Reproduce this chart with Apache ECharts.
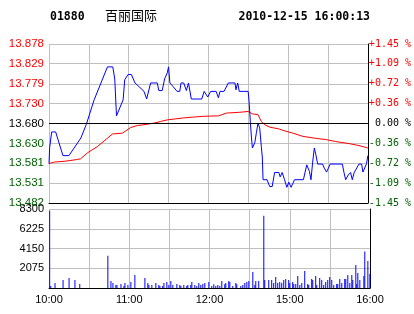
<!DOCTYPE html>
<html><head><meta charset="utf-8">
<script src="https://cdn.jsdelivr.net/npm/echarts@6/dist/echarts.min.js"></script>
<style>html,body{margin:0;padding:0;background:#fff}#c{width:414px;height:314px}</style>
</head><body><div id="c"></div>
<script>
const stockCode = '01880';
const stockName = '百丽国际';
const stamp = '2010-12-15 16:00:13';
const prevClose = 13.680;
const priceMin = 13.482, priceMax = 13.878;
const priceTickLabels = ['13.482','13.531','13.581','13.630','13.680','13.730','13.779','13.829','13.878'];
const pctTickLabels = ['-1.45 %','-1.09 %','-0.72 %','-0.36 %',' 0.00 %','+0.36 %','+0.72 %','+1.09 %','+1.45 %'];
const timeTickLabels = ['10:00','','11:00','','12:00','','15:00','','16:00'];
const volTickLabels = ['','2075','4150','6225','8300'];
const volMax = 8300, volStep = 2075;
// minutes since 10:00 on the trading-session axis (0..240), price
const priceData = [[0,13.580],[0.5,13.620],[2,13.659],[5,13.659],[10.5,13.600],[15,13.600],[24,13.644],[28,13.677],[34,13.739],[44,13.821],[48,13.821],[49.5,13.791],[50.8,13.699],[55.8,13.739],[57,13.789],[59.5,13.802],[62,13.802],[64.7,13.781],[67.7,13.772],[71.5,13.760],[73.5,13.741],[76.5,13.781],[81.5,13.781],[82.7,13.762],[85.2,13.762],[87,13.791],[89,13.806],[90,13.821],[91,13.781],[93.4,13.772],[96.4,13.760],[98.4,13.760],[99.4,13.781],[101.4,13.781],[103.4,13.762],[105,13.781],[106.4,13.781],[107.1,13.741],[115,13.741],[116.8,13.760],[119.5,13.746],[121.7,13.760],[125.8,13.760],[127.5,13.744],[128.7,13.760],[131.7,13.760],[135,13.781],[140,13.781],[140.7,13.764],[142,13.781],[143.2,13.760],[149.9,13.760],[150.6,13.735],[151.6,13.681],[152.4,13.644],[153.1,13.619],[154.9,13.632],[156.1,13.657],[157.3,13.681],[158.6,13.669],[159.8,13.623],[160.6,13.594],[161.1,13.540],[164.1,13.540],[166.1,13.523],[168,13.523],[169.8,13.558],[173,13.558],[174,13.547],[175.5,13.558],[177.3,13.540],[179,13.521],[180.5,13.534],[182.2,13.521],[184.8,13.540],[191.5,13.540],[194,13.577],[196,13.561],[197.2,13.540],[198.4,13.582],[199.7,13.619],[200.9,13.602],[202.2,13.579],[205.9,13.579],[207.2,13.569],[208.9,13.559],[211.7,13.579],[220.8,13.579],[222.1,13.557],[223.3,13.540],[225.3,13.552],[227,13.558],[228.3,13.540],[229.6,13.557],[230.8,13.558],[233.3,13.579],[235.3,13.579],[236.3,13.559],[237.8,13.559],[239,13.580],[240,13.600]];
const avgData = [[0,13.580],[4,13.584],[12,13.586],[20.5,13.590],[23.7,13.592],[29,13.607],[36.6,13.623],[47.8,13.654],[55.3,13.656],[61.5,13.670],[66.5,13.675],[71.5,13.677],[79,13.681],[84,13.685],[89,13.689],[94,13.691],[101.4,13.694],[108.8,13.696],[116.3,13.698],[127.5,13.699],[133.7,13.706],[143.7,13.708],[149.9,13.710],[153.1,13.704],[157.3,13.702],[159.8,13.685],[162.4,13.677],[166.1,13.671],[173.6,13.666],[176,13.663],[183.5,13.656],[191,13.648],[200.9,13.643],[208.4,13.640],[215.8,13.635],[225.8,13.630],[233.3,13.625],[240,13.619]];
const volData = [[0.5,8120],[1.3,211],[4.5,527],[10.5,844],[15,1055],[19.4,844],[23,422],[44,3376],[46.3,738],[47.8,527],[50,316],[50.8,316],[53.8,422],[56,211],[56.8,527],[59,316],[61.2,633],[64.2,1372],[71.7,1055],[73.9,527],[74.7,316],[76.9,316],[79.9,527],[82.1,316],[82.9,211],[85,211],[85.9,527],[88.1,633],[89.6,316],[91.1,738],[92.6,316],[95.6,422],[97.8,316],[98.6,211],[100.8,316],[103,211],[103.8,316],[106,316],[106.8,633],[109,316],[110.5,211],[112,527],[113.5,316],[115,422],[116.5,527],[119.5,633],[121.7,211],[123.2,390],[124.7,211],[126.2,316],[127.7,211],[129.2,738],[131.4,390],[132.2,527],[134.4,738],[135.2,633],[137.4,211],[139.7,527],[140.4,390],[143.4,211],[144.9,316],[146.4,527],[147.9,633],[149.4,738],[152.4,1688],[153.9,316],[154.6,738],[156.8,738],[160.6,7596],[161.3,844],[164.3,844],[166.5,844],[168,527],[169.5,1160],[171,527],[172.5,633],[174,527],[175.5,844],[177,950],[179.2,844],[180,527],[182.2,633],[183,422],[184.5,422],[186,1266],[187.5,316],[189,527],[191.2,1793],[193.4,422],[194.2,316],[196.4,950],[197.2,844],[199.4,1266],[200.2,316],[202.4,1055],[203.9,844],[205.4,316],[206.9,633],[208.4,844],[209.9,1160],[211.4,844],[212.9,316],[215.1,422],[215.9,422],[217.4,950],[218.9,527],[221.1,950],[221.9,950],[223.4,1372],[224.9,527],[226.4,1372],[227.1,844],[229.4,2426],[230.1,422],[230.9,1582],[232.4,844],[235.4,1266],[236.1,3838],[238.4,2848],[239.9,1477]];

const priceTickValues = priceTickLabels.map(Number);
const zeroIdx = priceTickLabels.indexOf(prevClose.toFixed(3));
function nearestIdx(v){let b=0,d=Infinity;priceTickValues.forEach((t,i)=>{const e=Math.abs(t-v);if(e<d){d=e;b=i;}});return b;}
function tickColor(v){const i=nearestIdx(v);return i>zeroIdx?'#ff0000':(i<zeroIdx?'#006000':'#000000');}
const grey = '#c0c0c0';
const chart = echarts.init(document.getElementById('c'), null, {renderer:'canvas'});
chart.setOption({
  animation:false,
  backgroundColor:'#ffffff',
  graphic:[
    {type:'text', left:50, top:11, style:{text:stockCode, font:'bold 11.5px "DejaVu Sans Mono"', fill:'#000'}},
    {type:'text', left:105, top:9, style:{text:stockName, font:'13px "Noto Sans CJK SC"', fill:'#000'}},
    {type:'text', right:44, top:11, style:{text:stamp, font:'bold 11.5px "DejaVu Sans Mono"', fill:'#000'}}
  ],
  grid:[
    {left:49, top:44, width:321, height:159},
    {left:49, top:209, width:321, height:79}
  ],
  xAxis:[
    {gridIndex:0, type:'value', min:0, max:240, interval:30,
     axisLine:{show:true, onZero:false, lineStyle:{color:'#000', width:1}}, axisTick:{show:false}, axisLabel:{show:false},
     splitLine:{show:true, lineStyle:{color:grey, width:1}}},
    {gridIndex:1, type:'value', min:0, max:240, interval:30,
     axisLine:{show:true, onZero:false, lineStyle:{color:'#000', width:1}}, axisTick:{show:false},
     axisLabel:{show:true, margin:6, color:'#000', fontFamily:'Liberation Sans', fontSize:11,
       formatter:(v)=>timeTickLabels[Math.round(v/30)]||''},
     splitLine:{show:true, lineStyle:{color:grey, width:1}}}
  ],
  yAxis:[
    {gridIndex:0, type:'value', min:priceMin, max:priceMax, position:'left',
     axisLine:{show:false}, axisTick:{show:false, customValues:priceTickValues},
     axisLabel:{customValues:priceTickValues, margin:5, fontFamily:'Liberation Sans', fontSize:11.5,
       formatter:(v)=>priceTickLabels[nearestIdx(v)], color:(v)=>tickColor(v)},
     splitLine:{show:true, lineStyle:{color:grey, width:1}}},
    {gridIndex:0, type:'value', min:priceMin, max:priceMax, position:'right',
     axisLine:{show:true, lineStyle:{color:'#000', width:1}}, axisTick:{show:false, customValues:priceTickValues},
     axisLabel:{customValues:priceTickValues, margin:1, fontFamily:'DejaVu Sans Mono', fontSize:10,
       formatter:(v)=>pctTickLabels[nearestIdx(v)], color:(v)=>tickColor(v)},
     splitLine:{show:false}},
    {gridIndex:1, type:'value', min:0, max:volMax, interval:volStep, position:'left',
     axisLine:{show:false}, axisTick:{show:false},
     axisLabel:{margin:5, color:'#000', fontFamily:'Liberation Sans', fontSize:11,
       formatter:(v)=>volTickLabels[Math.round(v/volStep)]||''},
     splitLine:{show:true, lineStyle:{color:grey, width:1}}},
    {gridIndex:1, type:'value', min:0, max:volMax, interval:volStep, position:'right',
     axisLine:{show:true, lineStyle:{color:'#000', width:1}}, axisTick:{show:false}, axisLabel:{show:false},
     splitLine:{show:false}}
  ],
  series:[
    {type:'line', xAxisIndex:0, yAxisIndex:0, data:avgData, symbol:'none', lineStyle:{color:'#ff0000', width:1}, z:3},
    {type:'line', xAxisIndex:0, yAxisIndex:0, data:priceData, symbol:'none', lineStyle:{color:'#0000ff', width:1}, z:4,
     markLine:{silent:true, symbol:'none', label:{show:false}, lineStyle:{color:'#000', width:1, type:'solid'},
       data:[{yAxis:prevClose}]}},
    {type:'bar', xAxisIndex:1, yAxisIndex:2, data:volData, barWidth:1, itemStyle:{color:'#0000ff'}}
  ]
});
</script></body></html>
